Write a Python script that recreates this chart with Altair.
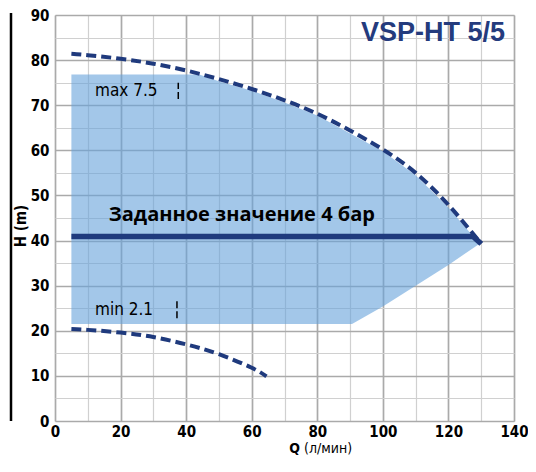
import altair as alt
import pandas as pd

# ---- data ----
upper_q = [5, 10, 20, 30, 40, 50, 60, 70, 80, 90, 100, 110, 120, 130]
upper_h = [81.4, 81.1, 80.3, 79.2, 77.7, 75.8, 73.6, 71.1, 68.1, 64.4, 60.2, 55.0, 47.9, 39.3]

lower_q = [5, 10, 20, 30, 40, 50, 60, 64.5]
lower_h = [20.4, 20.2, 19.6, 18.6, 17.0, 14.8, 11.8, 9.9]

region_q = [5, 44, 50, 60, 70, 80, 90.6, 100, 110, 120, 129.5]
region_top = [76.8, 76.8, 75.3, 73.2, 70.6, 67.7, 63.5, 59.8, 54.5, 47.3, 39.3]
region_bottom = [21.5, 21.5, 21.5, 21.5, 21.5, 21.5, 21.5, 25.4, 30.0, 34.6, 39.3]

setpoint_q = [5, 127.5, 130]
setpoint_h = [40.9, 40.9, 39.3]
setpoint_label = ["Заданное значение 4 бар"]
setpoint_label_pos = [57, 45.7]

limit_labels = ["max 7.5", "min 2.1"]
limit_label_q = [12.2, 12.2]
limit_label_h = [73.1, 24.7]
limit_mark_q = [37.6, 37.2]
limit_mark_h1 = [71.4, 22.8]
limit_mark_h2 = [75.0, 27.0]

chart_title = ["VSP-HT 5/5"]
x_title = ["Q", "(л/мин)"]
y_title = ["H (m)"]

x_ticks = list(range(0, 141, 10))
y_ticks = list(range(0, 91, 5))

# ---- styling ----
NAVY = "#1f3a7d"
FILL = "#66a2da"
NARROW = "Liberation Sans Narrow, Arial Narrow, DejaVu Sans Condensed, sans-serif"
W, H = 459, 406

x_axis = alt.Axis(
    values=x_ticks,
    labelExpr="datum.value % 20 === 0 ? datum.label : ''",
    grid=True,
    gridColor={"condition": {"test": "datum.value % 20 === 0", "value": "#aaaaaa"}, "value": "#d0d0d0"},
    gridWidth={"condition": {"test": "datum.value % 20 === 0", "value": 1.7}, "value": 1.2},
    ticks=False, domain=False, title=None,
    labelFont=NARROW, labelFontSize=15, labelFontWeight="bold", labelColor="black",
    labelPadding=3, labelOverlap=False, labelFlush=False,
)
y_axis = alt.Axis(
    values=y_ticks,
    labelExpr="datum.value % 10 === 0 ? datum.label : ''",
    grid=True,
    gridColor={"condition": {"test": "datum.value % 10 === 0", "value": "#aaaaaa"}, "value": "#d0d0d0"},
    gridWidth={"condition": {"test": "datum.value % 10 === 0", "value": 1.7}, "value": 1.2},
    ticks=False, domain=False, title=None,
    labelFont=NARROW, labelFontSize=15, labelFontWeight="bold", labelColor="black",
    labelPadding=6, labelOverlap=False, labelFlush=False,
)
xs = alt.Scale(domain=[0, 140], nice=False, zero=False)
ys = alt.Scale(domain=[0, 90], nice=False, zero=False)


def X(f="q"):
    return alt.X(f"{f}:Q", scale=xs, axis=x_axis)


def Y(f="h"):
    return alt.Y(f"{f}:Q", scale=ys, axis=y_axis)


region_df = pd.DataFrame({"q": region_q, "h": region_top, "h2": region_bottom})
upper_df = pd.DataFrame({"q": upper_q, "h": upper_h})
lower_df = pd.DataFrame({"q": lower_q, "h": lower_h})
set_df = pd.DataFrame({"q": setpoint_q, "h": setpoint_h})
set_lab_df = pd.DataFrame({"q": [setpoint_label_pos[0]], "h": [setpoint_label_pos[1]], "t": setpoint_label})
lim_df = pd.DataFrame({"q": limit_label_q, "h": limit_label_h, "t": limit_labels})
lim_mark_df = pd.DataFrame({"q": limit_mark_q, "h": limit_mark_h1, "h2": limit_mark_h2})

region = alt.Chart(region_df).mark_area(color=FILL, opacity=0.6).encode(
    x=X(), y=Y(), y2="h2:Q")

upper = alt.Chart(upper_df).mark_line(
    color=NAVY, strokeWidth=4, strokeDash=[10, 5], interpolate="natural").encode(x=X(), y=Y())
lower = alt.Chart(lower_df).mark_line(
    color=NAVY, strokeWidth=4, strokeDash=[10, 5], interpolate="natural").encode(x=X(), y=Y())
setline = alt.Chart(set_df).mark_line(color=NAVY, strokeWidth=5.5).encode(x=X(), y=Y())

set_text = alt.Chart(set_lab_df).mark_text(
    font="Open Sans, Liberation Sans, sans-serif", fontSize=20, fontWeight="bold",
    color="black", align="center", baseline="middle").encode(x=X(), y=Y(), text="t:N")

lim_text = alt.Chart(lim_df).mark_text(
    font=NARROW, fontSize=17, color="black", align="left", baseline="middle").encode(
    x=X(), y=Y(), text="t:N")
lim_marks = alt.Chart(lim_mark_df).mark_rule(
    color="black", strokeWidth=1.5, strokeDash=[7, 3]).encode(x=X(), y=Y(), y2="h2:Q")

title = alt.Chart(pd.DataFrame({"t": chart_title})).mark_text(
    font="Liberation Sans, Arial, sans-serif", fontSize=27, fontWeight="bold",
    color="#243b7d", align="right", baseline="alphabetic").encode(
    x=alt.value(W - 9), y=alt.value(26), text="t:N")

qt = alt.Chart(pd.DataFrame({"t": [x_title[0]]})).mark_text(
    font=NARROW, fontSize=14, fontWeight="bold", color="black", align="right",
    baseline="middle").encode(x=alt.value(245), y=alt.value(H + 28), text="t:N")
qu = alt.Chart(pd.DataFrame({"t": [x_title[1]]})).mark_text(
    font=NARROW, fontSize=14, color="black", align="left",
    baseline="middle").encode(x=alt.value(249), y=alt.value(H + 28), text="t:N")
ht = alt.Chart(pd.DataFrame({"t": y_title})).mark_text(
    font=NARROW, fontSize=15, fontWeight="bold", color="black", align="center",
    baseline="middle", angle=270).encode(x=alt.value(-34.5), y=alt.value(H / 2 + 8), text="t:N")

side = alt.Chart(pd.DataFrame({"t": [0]})).mark_rule(color="black", strokeWidth=2.5).encode(
    x=alt.value(-44), y=alt.value(-2), y2=alt.value(H))

chart = alt.layer(
    region, upper, lower, setline, set_text, lim_text, lim_marks, title, qt, qu, ht, side
).properties(
    width=W, height=H,
    autosize=alt.AutoSizeParams(type="none"),
    padding={"left": 47, "top": 7, "right": 14, "bottom": 35},
).configure_view(stroke="black", strokeWidth=3).configure(background="white")

chart.save("out.html", embed_options={"renderer": "svg", "actions": False})
